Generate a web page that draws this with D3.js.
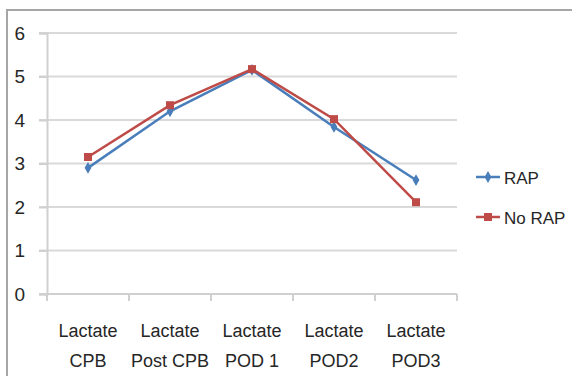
<!DOCTYPE html>
<html><head><meta charset="utf-8">
<script src="https://cdn.jsdelivr.net/npm/d3@7"></script>
<style>
body{margin:0;background:#fff;}
text{font-family:"Liberation Sans",Arial,sans-serif;fill:#262626;}
</style></head>
<body><svg id="c" width="572" height="376"></svg>
<script>
const categories = [["Lactate","CPB"],["Lactate","Post CPB"],["Lactate","POD 1"],["Lactate","POD2"],["Lactate","POD3"]];
const rapValues = [2.9, 4.2, 5.15, 3.84, 2.62];
const noRapValues = [3.15, 4.34, 5.17, 4.02, 2.11];
const yTicks = [0,1,2,3,4,5,6];
const seriesNames = ["RAP","No RAP"];

const svg = d3.select("#c");
svg.append("rect").attr("x",7).attr("y",10).attr("width",600).attr("height",400)
  .attr("fill","#fff").attr("stroke","#a6a6a6").attr("stroke-width",2);

const x = d3.scaleBand().domain(d3.range(categories.length)).range([47,457]);
const y = d3.scaleLinear().domain([0,6]).range([294,33]);

// gridlines
svg.append("g").selectAll("line").data(yTicks.filter(d=>d>0)).join("line")
  .attr("x1",39).attr("x2",457).attr("y1",d=>y(d)).attr("y2",d=>y(d))
  .attr("stroke","#d9d9d9").attr("stroke-width",2);

// y axis
const ya = svg.append("g").attr("transform","translate(47,0)")
  .call(d3.axisLeft(y).tickValues(yTicks).tickFormat(d3.format("d")).tickSize(8).tickPadding(14));
ya.select(".domain").attr("stroke","#d0d0d0").attr("stroke-width",2);
ya.selectAll(".tick line").attr("stroke","#d0d0d0").attr("stroke-width",2);
ya.selectAll("text").style("font-size","19px").attr("fill","#262626");

// x axis
const xa = svg.append("g").attr("transform","translate(0,294)");
xa.append("line").attr("x1",39).attr("x2",457).attr("stroke","#d0d0d0").attr("stroke-width",2);
const bounds = d3.range(categories.length+1).map(i=> i<categories.length ? x(i) : x(i-1)+x.bandwidth());
xa.selectAll(".tk").data(bounds).join("line").attr("class","tk")
  .attr("x1",d=>d).attr("x2",d=>d).attr("y1",0).attr("y2",7)
  .attr("stroke","#d0d0d0").attr("stroke-width",2);
const lbl = xa.selectAll(".lb").data(categories).join("text").attr("class","lb")
  .attr("text-anchor","middle").style("font-size","18px");
lbl.each(function(d,i){
  const t=d3.select(this);
  d.forEach((s,j)=>t.append("tspan").attr("x",x(i)+x.bandwidth()/2).attr("y",43+j*30).text(s));
});

const colors = ["#4a7ebb","#be4b48"];
const line = d3.line().x((d,i)=>x(i)+x.bandwidth()/2).y(d=>y(d));
[rapValues,noRapValues].forEach((vals,k)=>{
  svg.append("path").datum(vals).attr("d",line).attr("fill","none")
    .attr("stroke",colors[k]).attr("stroke-width",2.5);
});
// markers
svg.selectAll(".m0").data(rapValues).join("path").attr("class","m0")
  .attr("d",d3.symbol(d3.symbolDiamond,40)())
  .attr("transform",(d,i)=>`translate(${x(i)+x.bandwidth()/2},${y(d)})`).attr("fill",colors[0]);
svg.selectAll(".m1").data(noRapValues).join("rect").attr("class","m1")
  .attr("x",(d,i)=>x(i)+x.bandwidth()/2-4).attr("y",d=>y(d)-4).attr("width",8).attr("height",8)
  .attr("fill",colors[1]);

// legend
const lg = svg.append("g");
seriesNames.forEach((n,k)=>{
  const yy = 177+k*40;
  lg.append("line").attr("x1",476).attr("x2",500).attr("y1",yy).attr("y2",yy).attr("stroke",colors[k]).attr("stroke-width",2.5);
  if(k===0) lg.append("path").attr("d",d3.symbol(d3.symbolDiamond,40)()).attr("transform",`translate(488,${yy})`).attr("fill",colors[k]);
  else lg.append("rect").attr("x",484).attr("y",yy-4).attr("width",8).attr("height",8).attr("fill",colors[k]);
  lg.append("text").attr("x",504).attr("y",yy+7).style("font-size","17px").text(n);
});
</script></body></html>
